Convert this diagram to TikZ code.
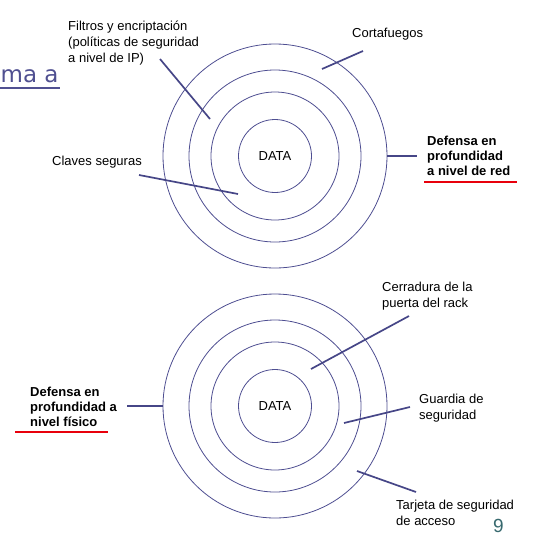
\documentclass[tikz,border=0pt]{standalone}
\usepackage{fontspec}
\setmainfont{Liberation Sans}
\newfontfamily\titlefont{DejaVu Sans}
\definecolor{ringc}{RGB}{78,78,145}
\definecolor{linec}{RGB}{70,70,135}
\definecolor{redu}{RGB}{232,0,12}
\definecolor{titlec}{RGB}{80,80,145}
\definecolor{numc}{RGB}{55,105,110}
\begin{document}
\begin{tikzpicture}[x=1pt,y=-1pt,
  ring/.style={circle,draw=ringc,line width=0.8pt,inner sep=0pt},
  conn/.style={draw=linec,line width=1.7pt},
  lbl/.style={anchor=base west,inner sep=0pt,align=left,font=\fontsize{13}{15.5}\selectfont},
  blbl/.style={lbl,font=\fontsize{13}{15}\selectfont\bfseries},
  redline/.style={draw=redu,line width=2.6pt}]
\useasboundingbox (0,0) rectangle (556,538);

% title fragment
\node[anchor=base west,inner sep=0pt,text=titlec,font=\titlefont\fontsize{23}{27}\selectfont] (ttl) at (0.5,82) {ma a};
\draw[titlec,line width=1.5pt] (0,88) -- (60,88);

% top rings
\node[ring,minimum size=224pt] (t4) at (275,156) {};
\node[ring,minimum size=172pt] (t3) at (275,156) {};
\node[ring,minimum size=128pt] (t2) at (275,156) {};
\node[ring,minimum size=73pt,font=\fontsize{13}{15}\selectfont] (t1) at (275,156) {DATA};

% bottom rings
\node[ring,minimum size=224pt] (b4) at (275,406) {};
\node[ring,minimum size=172pt] (b3) at (275,406) {};
\node[ring,minimum size=128pt] (b2) at (275,406) {};
\node[ring,minimum size=73pt,font=\fontsize{13}{15}\selectfont] (b1) at (275,406) {DATA};

% top labels (anchor = baseline of last line)
\node[lbl,font=\fontsize{13}{16}\selectfont] (filtros) at (68,62) {Filtros y encriptación\\(políticas de seguridad\\a nivel de IP)};
\node[lbl] (corta) at (352,37) {Cortafuegos};
\node[lbl] (claves) at (52,165) {Claves seguras};
\node[blbl] (red) at (427,175) {Defensa en\\profundidad\\a nivel de red};

% bottom labels
\node[lbl] (cerr) at (382,307) {Cerradura de la\\puerta del rack};
\node[lbl] (guard) at (419,419) {Guardia de\\seguridad};
\node[lbl] (tarj) at (396,525) {Tarjeta de seguridad\\de acceso};
\node[blbl] (fis) at (30,426) {Defensa en\\profundidad a\\nivel físico};
\node[anchor=base west,inner sep=0pt,text=numc,font=\fontsize{19}{22}\selectfont] (num) at (493,532) {9};

% connector end points
\coordinate (fA) at (160,59);  \coordinate (fB) at (210,119);
\coordinate (cA) at (363,51);  \coordinate (cB) at (322,69);
\coordinate (kA) at (139,175); \coordinate (kB) at (238,194);
\coordinate (rA) at (417,156);
\coordinate (pA) at (127,406);
\coordinate (eA) at (409,316); \coordinate (eB) at (311,369);
\coordinate (gA) at (410,407); \coordinate (gB) at (344,423);
\coordinate (jA) at (416,492); \coordinate (jB) at (357,471);

% connectors
\draw[conn] (fA) -- (fB);
\draw[conn] (cA) -- (cB);
\draw[conn] (kA) -- (kB);
\draw[conn] (t4.east) -- (rA);
\draw[conn] (pA) -- (b4.west);
\draw[conn] (eA) -- (eB);
\draw[conn] (gA) -- (gB);
\draw[conn] (jA) -- (jB);

% red underlines
\draw[redline] (424,182) -- (517,182);
\draw[redline] (15,432) -- (108,432);
\end{tikzpicture}
\end{document}
